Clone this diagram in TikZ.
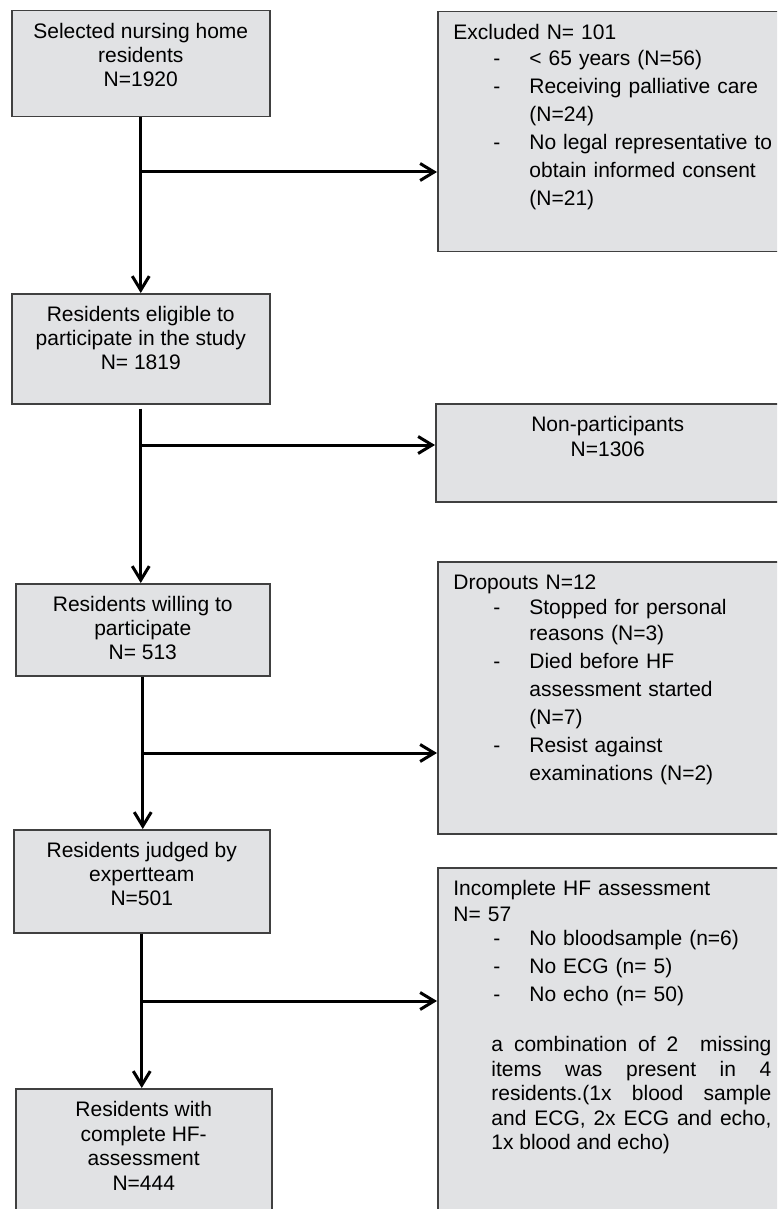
\documentclass[tikz,border=0pt]{standalone}
\usepackage{fontspec}
\setmainfont{Liberation Sans}
\usetikzlibrary{arrows.meta,positioning}
\definecolor{boxg}{HTML}{E1E2E4}
\definecolor{edge}{HTML}{404040}
\newcommand{\flowfont}{\fontsize{10.5}{12}\selectfont}
\newcommand{\listfont}{\fontsize{10.5}{14}\selectfont}
\newcommand{\dashitem}{\hspace*{20pt}\makebox[18pt][l]{-}}
\newcommand{\contline}{\hspace*{38pt}}

\begin{document}
\begin{tikzpicture}[
  x=0.5pt, y=-0.5pt,
  box/.style={draw=edge, fill=boxg, line width=0.75pt, inner sep=0pt, anchor=north west},
  ltxt/.style={font=\flowfont, align=center, inner sep=0pt},
  rtxt/.style={font=\listfont, align=left, text width=160pt, inner sep=0pt},
  arr/.style={line width=1.5pt, -{Straight Barb[length=7pt,width=8.5pt]}}
]
\useasboundingbox (0,0) rectangle (777,1209);
\clip (0,0) rectangle (777,1209);

% main column
\node[box, minimum width=129pt, minimum height=53pt] (sel) at (11,10) {};
\node[box, minimum width=129pt, minimum height=55pt] (elig) at (11,293) {};
\node[box, minimum width=127pt, minimum height=46pt] (will) at (15,583) {};
\node[box, minimum width=128pt, minimum height=51.5pt] (judg) at (13,829) {};
\node[box, minimum width=128pt, minimum height=75pt] (comp) at (15,1088) {};

\node[ltxt, below=6.6pt of sel.north] (selt) {Selected nursing home\\residents\\N=1920};
\node[ltxt, below=6.6pt of elig.north] (eligt) {Residents eligible to\\participate in the study\\N= 1819};
\node[ltxt, below=6.6pt of will.north] (willt) {Residents willing to\\participate\\N= 513};
\node[ltxt, below=6.6pt of judg.north] (judgt) {Residents judged by\\expertteam\\N=501};
\node[ltxt, below=6.6pt of comp.north, font=\fontsize{10.5}{12.2}\selectfont] (compt) {Residents with\\complete HF-\\assessment\\N=444};

% side boxes
\node[box, minimum width=171pt, minimum height=120pt] (excl) at (437,11) {};
\node[box, minimum width=172pt, minimum height=49pt] (nonp) at (435,403) {};
\node[box, minimum width=171pt, minimum height=136pt] (drop) at (437,561) {};
\node[box, minimum width=171pt, minimum height=180pt] (inc) at (437,867) {};

\node[rtxt, below right=6.6pt and 8pt of excl.north west] (exclt) {Excluded N= 101\\[-1.4pt]
\dashitem < 65 years (N=56)\\
\dashitem Receiving palliative care\\
\contline (N=24)\\
\dashitem No legal representative to\\
\contline obtain informed consent\\
\contline (N=21)};
\node[ltxt, below=6.6pt of nonp.north, font=\fontsize{10.5}{12.5}\selectfont] (nonpt) {Non-participants\\N=1306};
\node[rtxt, below right=6.6pt and 8pt of drop.north west] (dropt) {Dropouts N=12\\[-1.5pt]
\dashitem Stopped for personal\\[-1pt]
\contline reasons (N=3)\\
\dashitem Died before HF\\
\contline assessment started\\
\contline (N=7)\\
\dashitem Resist against\\
\contline examinations (N=2)};
\node[rtxt, below right=6.6pt and 8pt of inc.north west] (inct) {Incomplete HF assessment\\[-1pt]
N= 57\\[-2pt]
\dashitem No bloodsample (n=6)\\
\dashitem No ECG (n= 5)\\
\dashitem No echo (n= 50)\\[11pt]
\hspace*{19pt}\parbox[t]{140pt}{\fontsize{10.5}{12.2}\selectfont
\leftskip=0pt \rightskip=0pt \spaceskip=0pt \xspaceskip=0pt
\parfillskip=0pt plus 1fil
a combination of 2\ \ missing\linebreak
items was present in 4\linebreak
residents.(1x blood sample\linebreak
and ECG, 2x ECG and echo,\linebreak
1x blood and echo)}};

% flow
\draw[arr] (sel.south) -- (sel.south |- elig.north);
\draw[arr, shorten <=2pt] (elig.south) -- (elig.south |- will.north);
\draw[arr] (will.south) -- (will.south |- judg.north);
\draw[arr] (judg.south) -- (judg.south |- comp.north);

% branches
\coordinate (b1) at (sel.south |- 0,172);
\coordinate (b2) at (elig.south |- 0,445);
\coordinate (b3) at (will.south |- 0,753);
\coordinate (b4) at (judg.south |- 0,1001);
\draw[arr] (b1) -- (b1 -| excl.west);
\draw[arr] (b2) -- (b2 -| nonp.west);
\draw[arr] (b3) -- (b3 -| drop.west);
\draw[arr] (b4) -- (b4 -| inc.west);
\end{tikzpicture}
\end{document}
